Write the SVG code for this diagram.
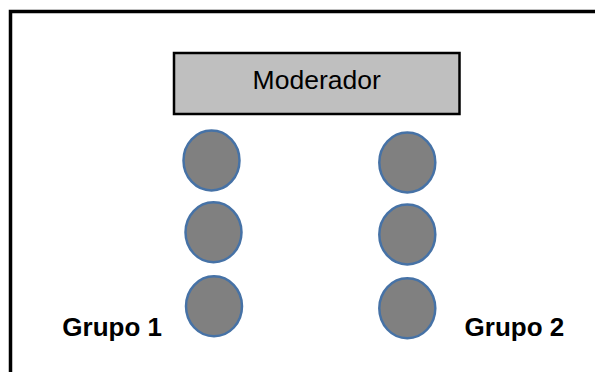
<svg xmlns="http://www.w3.org/2000/svg" width="595" height="372" viewBox="0 0 595 372">
<style>
.seat{fill:#808080;stroke:#4672A6;stroke-width:2.5}
.lbl{font-family:"Liberation Sans",Arial,sans-serif;fill:#000}
</style>
<rect width="595" height="372" fill="#fff"/>
<path d="M10.5,372 V11.5 H595" fill="none" stroke="#000" stroke-width="3.5"/>
<g id="moderador">
<rect x="174" y="53" width="285.5" height="61" fill="#BFBFBF" stroke="#000" stroke-width="2.5"/>
<text class="lbl" x="316.7" y="88.8" font-size="26.5" text-anchor="middle">Moderador</text>
</g>
<g id="grupo1">
<ellipse class="seat" cx="211.5" cy="160.5" rx="28" ry="30"/>
<ellipse class="seat" cx="213.5" cy="232.3" rx="28" ry="30"/>
<ellipse class="seat" cx="214" cy="306.3" rx="28" ry="30"/>
<text class="lbl" x="62.3" y="335.8" font-size="26" font-weight="bold">Grupo 1</text>
</g>
<g id="grupo2">
<ellipse class="seat" cx="407.3" cy="162.5" rx="28" ry="30"/>
<ellipse class="seat" cx="407.3" cy="234.5" rx="28" ry="30"/>
<ellipse class="seat" cx="407.3" cy="308.3" rx="28" ry="30"/>
<text class="lbl" x="464.6" y="335.8" font-size="26" font-weight="bold">Grupo 2</text>
</g>
<g id="connectors"/>
</svg>
